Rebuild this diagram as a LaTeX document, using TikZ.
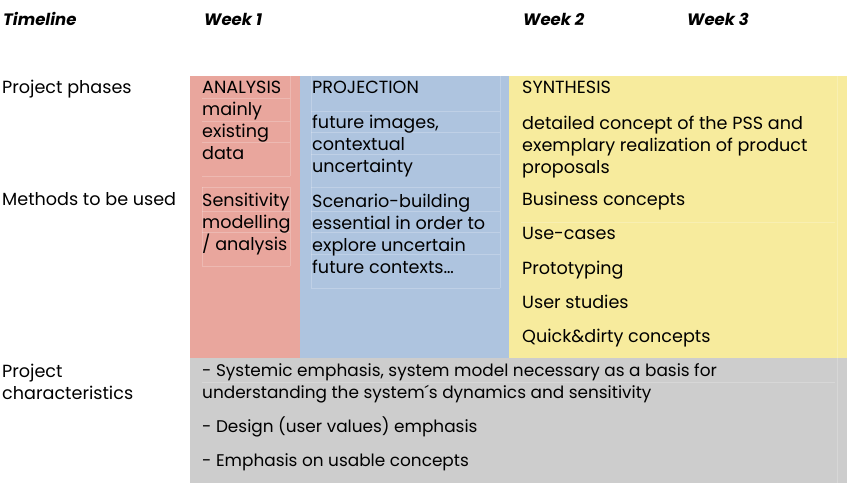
\documentclass[tikz,border=0pt]{standalone}
\usepackage{fontspec}
\setmainfont{Poppins}
\usetikzlibrary{positioning}
\usepackage{xcolor}
\definecolor{tlred}{HTML}{E9A69D}
\definecolor{tlblue}{HTML}{AEC4DF}
\definecolor{tlyellow}{HTML}{F7EB9D}
\definecolor{tlgray}{HTML}{CDCDCD}

\begin{document}
% multi-line nodes are placed at the baseline of their last line
\begin{tikzpicture}[x=1pt, y=-1pt,
  txt/.style={anchor=base west, inner sep=0pt, align=left, font=\fontsize{17.6}{22}\selectfont},
  small/.style={txt, font=\fontsize{16.9}{21.5}\selectfont},
  head/.style={txt, font=\fontsize{16.5}{20}\selectfont\bfseries\itshape},
  guide/.style={white, opacity=0.22, line width=0.5pt}]
\useasboundingbox (0,0) rectangle (848,494);
% phase columns
\fill[tlred] (190,76) rectangle (300,358);
\fill[tlblue] (300,76) rectangle (509,358);
\fill[tlyellow] (509,76) rectangle (847,358);
\fill[tlgray] (190,358) rectangle (847,483);
% faint text box outlines
\foreach \y in {98,121,142,176,187,211,232,266} {
  \draw[guide] (202,\y) -- (290,\y);
}
\foreach \y in {111,132,154,187,211,232,254,288} {
  \draw[guide] (311,\y) -- (500,\y);
}
\draw[guide] (290,76) -- (290,176) (202,187) -- (202,266) (290,187) -- (290,266);
\draw[guide] (311,76) -- (311,288) (500,76) -- (500,288);
\draw[guide] (521,222) -- (835,222) (837,76) -- (837,483) (202,382) -- (835,382);
% timeline
\node[head] (timeline) at (3,26) {Timeline};
\node[head] (week1) at (204,26) {Week 1};
\node[head] (week2) at (523,26) {Week 2};
\node[head] (week3) at (687,26) {Week 3};
% row labels
\node[txt] (phases) at (2,94) {Project phases};
\node[txt] (methods) at (2,206) {Methods to be used};
\node[txt] (charac) at (2,399) {Project\\characteristics};
% project phases
\node[txt] (analysis) at (202,160) {ANALYSIS\\mainly\\existing\\data};
\node[txt] (projection) at (312,94) {PROJECTION};
\node[txt] (projectionTxt) at (312,173) {future images,\\contextual\\uncertainty};
\node[txt] (synthesis) at (522,94) {SYNTHESIS};
\node[txt] (synthesisTxt) at (522,174) {detailed concept of the PSS and\\exemplary realization of product\\proposals};
% methods
\node[txt] (sensitivity) at (202,251) {Sensitivity\\modelling\\/ analysis};
\node[txt] (scenario) at (312,273) {Scenario-building\\essential in order to\\explore uncertain\\future contexts\dots};
\node[txt] (business) at (522,206) {Business concepts};
\node[txt] (usecases) at (522,240) {Use-cases};
\node[txt] (prototyping) at (522,274) {Prototyping};
\node[txt] (userstudies) at (522,308) {User studies};
\node[txt] (quickdirty) at (522,342) {Quick\&dirty concepts};
% characteristics
\node[small] (systemic) at (202,398) {- Systemic emphasis, system model necessary as a basis for\\understanding the system´s dynamics and sensitivity};
\node[small] (design) at (202,432) {- Design (user values) emphasis};
\node[small] (usable) at (202,466) {- Emphasis on usable concepts};
\end{tikzpicture}
\end{document}
